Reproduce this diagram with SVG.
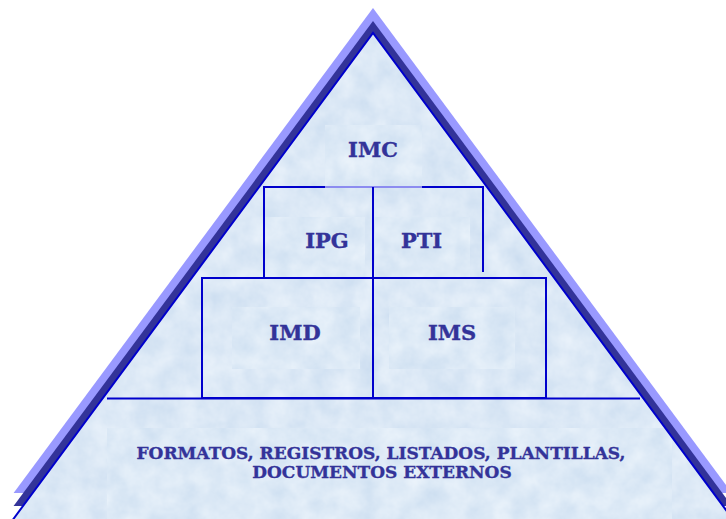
<svg xmlns="http://www.w3.org/2000/svg" width="726" height="519" viewBox="0 0 726 519">
  <style>
    .lbl { font-family: "DejaVu Serif", "Liberation Serif", serif; font-weight: bold; fill: #333399; stroke: #333399; stroke-width: 0.35; text-anchor: middle; }
    .big { font-size: 21px; }
    .small { font-size: 17px; }
    .ln { stroke: #0000cc; stroke-width: 2; fill: none; }
  </style>
  <defs>
    <filter id="tex" x="0" y="0" width="100%" height="100%" color-interpolation-filters="sRGB">
      <feTurbulence type="fractalNoise" baseFrequency="0.045" numOctaves="4" seed="3" result="n"/>
      <feColorMatrix in="n" type="matrix" values="0.13 0 0 0 0.795  0.09 0 0 0 0.865  0.045 0 0 0 0.94  0 0 0 0 1"/>
    </filter>
    <filter id="tex2" x="0" y="0" width="100%" height="100%" color-interpolation-filters="sRGB">
      <feTurbulence type="fractalNoise" baseFrequency="0.045" numOctaves="4" seed="11" result="n"/>
      <feColorMatrix in="n" type="matrix" values="0.13 0 0 0 0.8  0.09 0 0 0 0.87  0.045 0 0 0 0.942  0 0 0 0 1"/>
    </filter>
    <clipPath id="tri">
      <polygon points="373,33 4,531 742,531"/>
    </clipPath>
  </defs>

  <g id="pyramid">
    <polygon points="373,8 13.6,493 732,493" fill="#9999ff"/>
    <polygon points="373,21 13.6,506 732,506" fill="#333399"/>
    <g clip-path="url(#tri)">
      <rect x="0" y="30" width="726" height="489" fill="#d8e6f5" filter="url(#tex)"/>
    </g>
  </g>

  <g id="textboxes" clip-path="url(#tri)">
    <rect x="325" y="125" width="97" height="62" filter="url(#tex2)"/>
    <rect x="265" y="217" width="100" height="60" filter="url(#tex2)"/>
    <rect x="375" y="217" width="95" height="60" filter="url(#tex2)"/>
    <rect x="232" y="307" width="128" height="62" filter="url(#tex2)"/>
    <rect x="389" y="307" width="126" height="62" filter="url(#tex2)"/>
    <rect x="107" y="428" width="565" height="91" filter="url(#tex2)"/>
  </g>

  <g id="pyramid-edge">
    <polyline points="13,519.5 373,33 733,519.5" fill="none" stroke="#0000cc" stroke-width="2"/>
  </g>

  <g id="connectors">
    <path class="ln" d="M264,278 V187 H325"/>
    <path d="M325,187 H422" stroke="#8c8cf0" stroke-width="2" fill="none"/>
    <path class="ln" d="M422,187 H483 V272"/>
    <path class="ln" d="M373,187 V398"/>
    <rect class="ln" x="202" y="278" width="344" height="120"/>
    <path class="ln" d="M107,398.5 H640"/>
  </g>

  <g id="imc"><text class="lbl big" x="373" y="157">IMC</text></g>
  <g id="ipg"><text class="lbl big" x="327" y="248">IPG</text></g>
  <g id="pti"><text class="lbl big" x="421.5" y="248">PTI</text></g>
  <g id="imd"><text class="lbl big" x="295" y="340">IMD</text></g>
  <g id="ims"><text class="lbl big" x="452" y="340">IMS</text></g>
  <g id="base">
    <text class="lbl small" x="381" y="459">FORMATOS, REGISTROS, LISTADOS, PLANTILLAS,</text>
    <text class="lbl small" x="382" y="478">DOCUMENTOS EXTERNOS</text>
  </g>
</svg>
